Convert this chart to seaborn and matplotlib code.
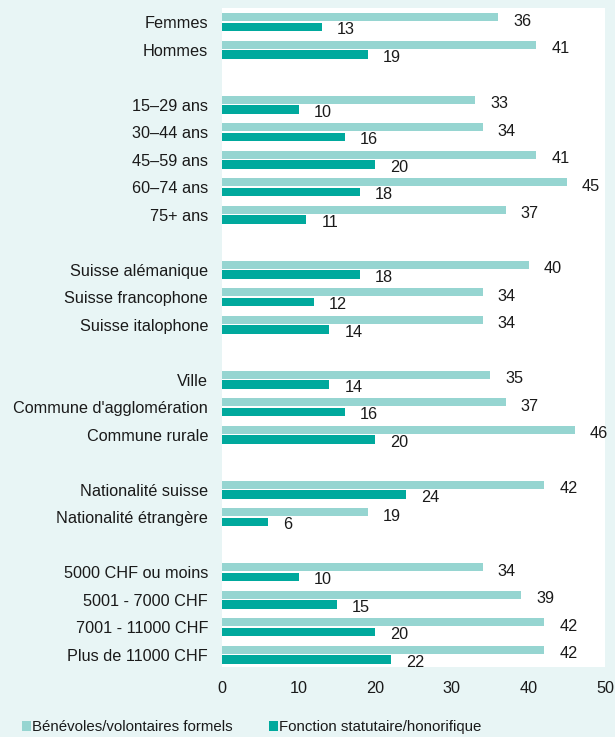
import numpy as np
import pandas as pd
import seaborn as sns
import matplotlib.pyplot as plt

categories = ['Femmes', 'Hommes',
              '15–29 ans', '30–44 ans', '45–59 ans', '60–74 ans', '75+ ans',
              'Suisse alémanique', 'Suisse francophone', 'Suisse italophone',
              'Ville', "Commune d'agglomération", 'Commune rurale',
              'Nationalité suisse', 'Nationalité étrangère',
              '5000 CHF ou moins', '5001 - 7000 CHF', '7001 - 11000 CHF', 'Plus de 11000 CHF']
# empty rows between the groups
row_order = ['Femmes', 'Hommes', ' 1',
             '15–29 ans', '30–44 ans', '45–59 ans', '60–74 ans', '75+ ans', ' 2',
             'Suisse alémanique', 'Suisse francophone', 'Suisse italophone', ' 3',
             'Ville', "Commune d'agglomération", 'Commune rurale', ' 4',
             'Nationalité suisse', 'Nationalité étrangère', ' 5',
             '5000 CHF ou moins', '5001 - 7000 CHF', '7001 - 11000 CHF', 'Plus de 11000 CHF']
benevoles = [36, 41, 33, 34, 41, 45, 37, 40, 34, 34, 35, 37, 46, 42, 19, 34, 39, 42, 42]
fonction = [13, 19, 10, 16, 20, 18, 11, 18, 12, 14, 14, 16, 20, 24, 6, 10, 15, 20, 22]
series = ['Bénévoles/volontaires formels', 'Fonction statutaire/honorifique']
colors = ['#96D5D1', '#00A99D']
bg = '#E8F5F5'

df = pd.DataFrame({
    'cat': categories * 2,
    'val': benevoles + fonction,
    'serie': [series[0]] * len(categories) + [series[1]] * len(categories),
})

plt.rcParams['font.family'] = ['Liberation Sans', 'DejaVu Sans']
fs = 11.7

fig = plt.figure(figsize=(6.15, 7.37), dpi=100, facecolor=bg)
ax = fig.add_axes([0.361, 0.095, 0.623, 0.894])
ax.set_facecolor('white')

sns.barplot(data=df, y='cat', x='val', hue='serie', order=row_order,
            hue_order=series, palette=colors, saturation=1, width=0.7, gap=0.15,
            linewidth=0, errorbar=None, ax=ax)

for cont, dy in zip(ax.containers, [-3, -2]):
    for bar in cont:
        w = bar.get_width()
        if np.isnan(w):
            continue
        ax.annotate(f'{w:.0f}', (w, bar.get_y() + bar.get_height() / 2),
                    xytext=(11, dy), textcoords='offset points',
                    va='center', ha='left', fontsize=fs, color='#1a1a1a')

ax.set_xlim(0, 50)
ax.set_ylim(23.45, -0.51)
ax.set_xticks([0, 10, 20, 30, 40, 50])
ax.set_yticks(range(len(row_order)))
ax.set_yticklabels([c if not c.startswith(' ') else '' for c in row_order])
ax.set_xlabel('')
ax.set_ylabel('')
for s in ax.spines.values():
    s.set_visible(False)
ax.tick_params(axis='both', length=0, labelsize=fs, colors='#1a1a1a')
ax.tick_params(axis='y', pad=10)
ax.tick_params(axis='x', pad=10)

handles, labels = ax.get_legend_handles_labels()
ax.get_legend().remove()
fig.legend(handles, labels, loc='center left', bbox_to_anchor=(0.035, 0.013),
           ncol=2, frameon=False, fontsize=10.8, handlelength=0.6,
           handleheight=0.6, handletextpad=0.1, columnspacing=2.4,
           borderaxespad=0, borderpad=0, labelcolor='#1a1a1a')

fig.savefig('out.png', dpi=100, facecolor=bg)
